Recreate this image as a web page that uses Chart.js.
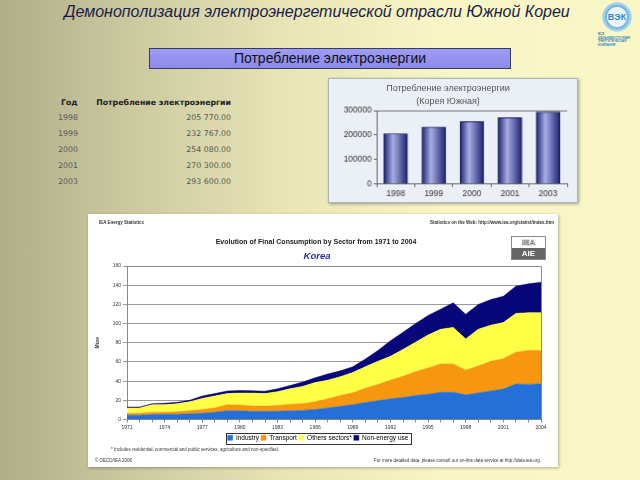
<!DOCTYPE html>
<html>
<head>
<meta charset="utf-8">
<script src="https://cdn.jsdelivr.net/npm/chart.js@4.4.1/dist/chart.umd.min.js"></script>
<style>
  html, body { margin: 0; padding: 0; }
  body { width: 640px; height: 480px; overflow: hidden; font-family: "Liberation Sans", Arial, sans-serif; }
  #slide {
    position: relative; width: 640px; height: 480px;
    background: linear-gradient(90deg, #b0ae88 0%, #cdcba1 22%, #e8e6b7 45%, #f8f6c6 70%, #f9f7c6 100%);
  }
  .abs { position: absolute; }
  #title {
    left: 0; width: 634px; top: 3px; text-align: center;
    font-style: italic; font-size: 16px; color: #1c1c48;
  }
  #logo { left: 598px; top: 2px; width: 40px; height: 44px; }
  #logo .sun {
    position: absolute; left: 4px; top: 0; width: 30px; height: 30px; border-radius: 50%;
    background: radial-gradient(circle, #eaf4fb 0 45%, #6fb3dc 50%, #bfe0f2 70%, rgba(190,224,242,0) 72%);
    text-align: center; line-height: 30px; font-weight: bold; font-size: 9px; color: #2f88c0;
  }
  #logo .cap { position: absolute; left: 0; top: 31px; font-size: 3px; line-height: 3.6px; color: #2f88c0; font-weight: bold; }
  #section {
    left: 149px; top: 48px; width: 360px; height: 19px;
    background: linear-gradient(180deg, #9e9cf4 0%, #8c8aec 100%);
    border: 1px solid #3a3a5a; text-align: center; font-size: 14px; line-height: 19px; color: #111;
  }
  #table { left: 50px; top: 95px; font-family: "DejaVu Sans", Verdana, sans-serif; font-size: 7.8px; color: #555; }
  #table .row { position: absolute; height: 10px; white-space: nowrap; }
  #table .yr { position: absolute; left: 8px; }
  #table .val { position: absolute; right: 0; text-align: right; }
  #table .head { font-weight: bold; color: #222; font-size: 7.8px; }
  #smallBox { left: 328px; top: 78px; width: 250px; height: 125px; box-shadow: 1px 1px 3px rgba(0,0,0,0.35); }
  #smallChart { background: #ebf0f6; border: 1px solid #aeb4bb; box-sizing: border-box; }
  .smallTitle { left: 338px; width: 220px; text-align: center; font-size: 9px; color: #555; }
  #bigBox { left: 88px; top: 214px; width: 470px; height: 253px; background: #fff; box-shadow: 1px 1px 3px rgba(0,0,0,0.3); }
  .tiny { font-size: 4.5px; color: #333; white-space: nowrap; }
  #bigTitle { left: 88px; width: 456px; top: 238px; text-align: center; font-weight: bold; font-size: 7px; color: #222; }
  #korea { left: 88px; width: 458px; top: 250px; text-align: center; font-weight: bold; font-style: italic; font-size: 9.5px; color: #2a2a9a; }
  #iea { left: 511px; top: 236px; width: 33px; height: 22px; border: 1px solid #888; font-size: 8px; font-weight: bold; text-align: center; }
  #iea .t { height: 11px; line-height: 11px; color: #fff; -webkit-text-stroke: 0.6px #777; }
  #iea .b { height: 11px; line-height: 11px; background: #666; color: #fff; }
</style>
</head>
<body>
<div id="slide">
  <div id="title" class="abs">Демонополизация электроэнергетической отрасли Южной Кореи</div>
  <div id="logo" class="abs"><div class="sun">ВЭК</div><div class="cap">ВСЕ<br>ДАЛЬНЕВОСТОЧНАЯ<br>ЭНЕРГЕТИЧЕСКАЯ КОМПАНИЯ</div></div>
  <div id="section" class="abs">Потребление электроэнергии</div>

  <div id="table" class="abs"></div>

  <div id="smallBox" class="abs"><canvas id="smallChart" width="250" height="125"></canvas></div>
  <div class="abs smallTitle" style="top:83px">Потребление электроэнергии</div>
  <div class="abs smallTitle" style="top:96px">(Корея Южная)</div>

  <div id="bigBox" class="abs"><canvas id="sectorChart" width="470" height="253"></canvas></div>
  <div class="abs tiny" style="left:99px; top:220px; font-weight:bold">IEA Energy Statistics</div>
  <div class="abs tiny" style="right:86px; top:220px; font-weight:bold">Statistics on the Web: http://www.iea.org/statist/index.htm</div>
  <div id="bigTitle" class="abs">Evolution of Final Consumption by Sector from 1971 to 2004</div>
  <div id="korea" class="abs">Korea</div>
  <div id="iea" class="abs"><div class="t">IEA</div><div class="b">AIE</div></div>
  <div class="abs tiny" style="left:111px; top:447px">* Includes residential, commercial and public services, agriculture and non-specified.</div>
  <div class="abs tiny" style="left:95px; top:458px">© OECD/IEA 2006</div>
  <div class="abs tiny" style="right:99px; top:458px">For more detailed data, please consult our on-line data service at http://data.iea.org.</div>
</div>

<script>
// electricity consumption table / bar chart
const tableYears = ['1998', '1999', '2000', '2001', '2003'];
const consumption = [205770, 232767, 254080, 270300, 293600];
const consumptionTicks = [0, 100000, 200000, 300000];

// IEA final consumption by sector, Mtoe
const years = ['1971', '1972', '1973', '1974', '1975', '1976', '1977', '1978', '1979', '1980',
  '1981', '1982', '1983', '1984', '1985', '1986', '1987', '1988', '1989', '1990',
  '1991', '1992', '1993', '1994', '1995', '1996', '1997', '1998', '1999', '2000',
  '2001', '2002', '2003', '2004'];
const industry = [4.5, 4.5, 5.1, 5.5, 5.5, 6.0, 6.5, 7.5, 9.2, 9.0, 8.5, 8.5, 8.5, 9.0, 9.5, 10.5, 12.0,
  13.7, 15.4, 17.8, 19.5, 21.6, 23.0, 25.0, 26.4, 28.4, 28.4, 25.7, 27.7, 29.8, 31.8, 37.0, 36.6, 37.3];
const transport = [1.7, 2.0, 2.4, 2.0, 2.5, 3.0, 3.8, 4.5, 6.2, 6.0, 5.5, 5.5, 6.0, 7.0, 7.0, 8.0, 9.5,
  11.3, 12.6, 14.7, 17.1, 19.4, 22.0, 24.7, 27.4, 29.5, 29.5, 25.7, 28.1, 30.8, 31.6, 33.2, 35.4, 34.7];
const others = [5.8, 5.5, 7.9, 8.0, 8.5, 9.5, 11.7, 12.5, 11.6, 12.5, 13.5, 13.0, 14.5, 16.0, 18.0, 20.0, 19.5,
  19.5, 21.0, 22.5, 24.0, 24.8, 28.0, 30.8, 34.2, 36.1, 38.1, 32.6, 38.2, 37.7, 37.6, 40.4, 39.3, 39.3];
const nonEnergy = [1.0, 1.0, 1.1, 1.5, 1.5, 1.5, 2.5, 2.5, 2.7, 2.8, 2.5, 2.5, 3.0, 3.5, 4.5, 5.0, 6.5,
  6.2, 6.0, 8.0, 11.4, 16.2, 18.0, 19.5, 20.5, 21.0, 25.6, 25.6, 26.0, 26.7, 27.4, 28.4, 30.1, 31.7];
const sectorTicks = [0, 20, 40, 60, 80, 100, 120, 140, 160];

// --- table ---
const fmt = v => v.toLocaleString('en-US').replace(/,/g, ' ') + '.00';
const table = document.getElementById('table');
let html = `<div class="row head" style="top:3px; left:0; width:181px">
  <span class="yr" style="left:11px">Год</span><span class="val">Потребление электроэнергии</span></div>`;
tableYears.forEach((y, i) => {
  html += `<div class="row" style="top:${18 + i * 16}px; left:0; width:181px">
    <span class="yr">${y}</span><span class="val">${fmt(consumption[i])}</span></div>`;
});
table.innerHTML = html;

// --- small bar chart ---
function barFill(ctx) {
  const chart = ctx.chart;
  if (!chart.chartArea) return '#3a3f90';
  const x = chart.scales.x.getPixelForValue(ctx.dataIndex);
  const g = chart.ctx.createLinearGradient(x - 12, 0, x + 12, 0);
  g.addColorStop(0, '#1d2270');
  g.addColorStop(0.38, '#a9aee6');
  g.addColorStop(1, '#1d2270');
  return g;
}

new Chart(document.getElementById('smallChart'), {
  type: 'bar',
  data: {
    labels: tableYears,
    datasets: [{ data: consumption, backgroundColor: barFill, borderColor: '#1a1d5c', borderWidth: 1, barThickness: 24 }]
  },
  options: {
    responsive: false,
    animation: false,
    layout: { padding: { top: 32, right: 10, bottom: 1, left: 0 } },
    plugins: { legend: { display: false }, tooltip: { enabled: false } },
    scales: {
      x: {
        grid: { drawOnChartArea: false, tickLength: 3, color: '#666' },
        border: { color: '#666' },
        ticks: { color: '#333', font: { size: 8.5 }, padding: 2 }
      },
      y: {
        min: 0, max: 300000,
        afterBuildTicks: s => { s.ticks = consumptionTicks.map(v => ({ value: v })); },
        afterFit: s => { s.width = 48; },
        grid: { color: c => c.tick && c.tick.value === 300000 ? '#777' : 'rgba(0,0,0,0)', tickColor: '#666', tickLength: 3 },
        border: { color: '#666' },
        ticks: { color: '#333', font: { size: 8.5 }, padding: 2, callback: v => String(v) }
      }
    }
  }
});

// --- sector stacked area chart ---
const plotFrame = {
  id: 'plotFrame',
  afterDraw(chart) {
    const { ctx, chartArea: a, legend } = chart;
    ctx.save();
    ctx.strokeStyle = '#888';
    ctx.lineWidth = 1;
    ctx.beginPath();
    ctx.moveTo(a.left, a.top + 0.5);
    ctx.lineTo(a.right + 0.5, a.top + 0.5);
    ctx.lineTo(a.right + 0.5, a.bottom);
    ctx.stroke();
    // box round the legend
    const boxes = legend.legendHitBoxes;
    if (boxes && boxes.length) {
      const l = Math.min(...boxes.map(b => b.left)) - 2;
      const r = Math.max(...boxes.map(b => b.left + b.width)) + 2;
      const t = boxes[0].top - 2;
      const h = boxes[0].height + 4;
      ctx.strokeStyle = '#333';
      ctx.strokeRect(Math.round(l) + 0.5, Math.round(t) + 0.5, Math.round(r - l), Math.round(h));
    }
    ctx.restore();
  }
};

const sectors = [
  { label: 'Industry', data: industry, color: '#2470d6', fill: 'origin' },
  { label: 'Transport', data: transport, color: '#f7960f', fill: '-1' },
  { label: 'Others sectors*', data: others, color: '#ffff45', fill: '-1' },
  { label: 'Non-energy use', data: nonEnergy, color: '#07077a', fill: '-1' }
];

new Chart(document.getElementById('sectorChart'), {
  type: 'line',
  data: {
    labels: years,
    datasets: sectors.map(s => ({
      label: s.label, data: s.data, fill: s.fill,
      backgroundColor: s.color, borderColor: s.color, borderWidth: 0.5
    }))
  },
  options: {
    responsive: false,
    animation: false,
    elements: { point: { radius: 0 }, line: { tension: 0 } },
    layout: { padding: { top: 52, right: 17, bottom: 16, left: 7 } },
    plugins: {
      tooltip: { enabled: false },
      legend: {
        position: 'bottom',
        labels: { boxWidth: 5, boxHeight: 5, padding: 2, color: '#000', font: { size: 6.5 } }
      }
    },
    scales: {
      x: {
        grid: { drawOnChartArea: false, tickLength: 3, color: '#888' },
        border: { color: '#888' },
        ticks: {
          autoSkip: false, maxRotation: 0, color: '#333', font: { size: 5 }, padding: 2,
          callback: (v, i) => (i % 3 === 0 ? years[i] : '')
        }
      },
      y: {
        stacked: true, min: 0, max: 160,
        afterBuildTicks: s => { s.ticks = sectorTicks.map(v => ({ value: v })); },
        afterFit: s => { s.width = 32; },
        grid: { color: '#999', tickLength: 4 },
        border: { color: '#888' },
        title: { display: true, text: 'Mtoe', color: '#333', font: { size: 5, weight: 'bold' }, padding: 0 },
        ticks: { color: '#333', font: { size: 5 }, padding: 2 }
      }
    }
  },
  plugins: [plotFrame]
});
</script>
</body>
</html>
